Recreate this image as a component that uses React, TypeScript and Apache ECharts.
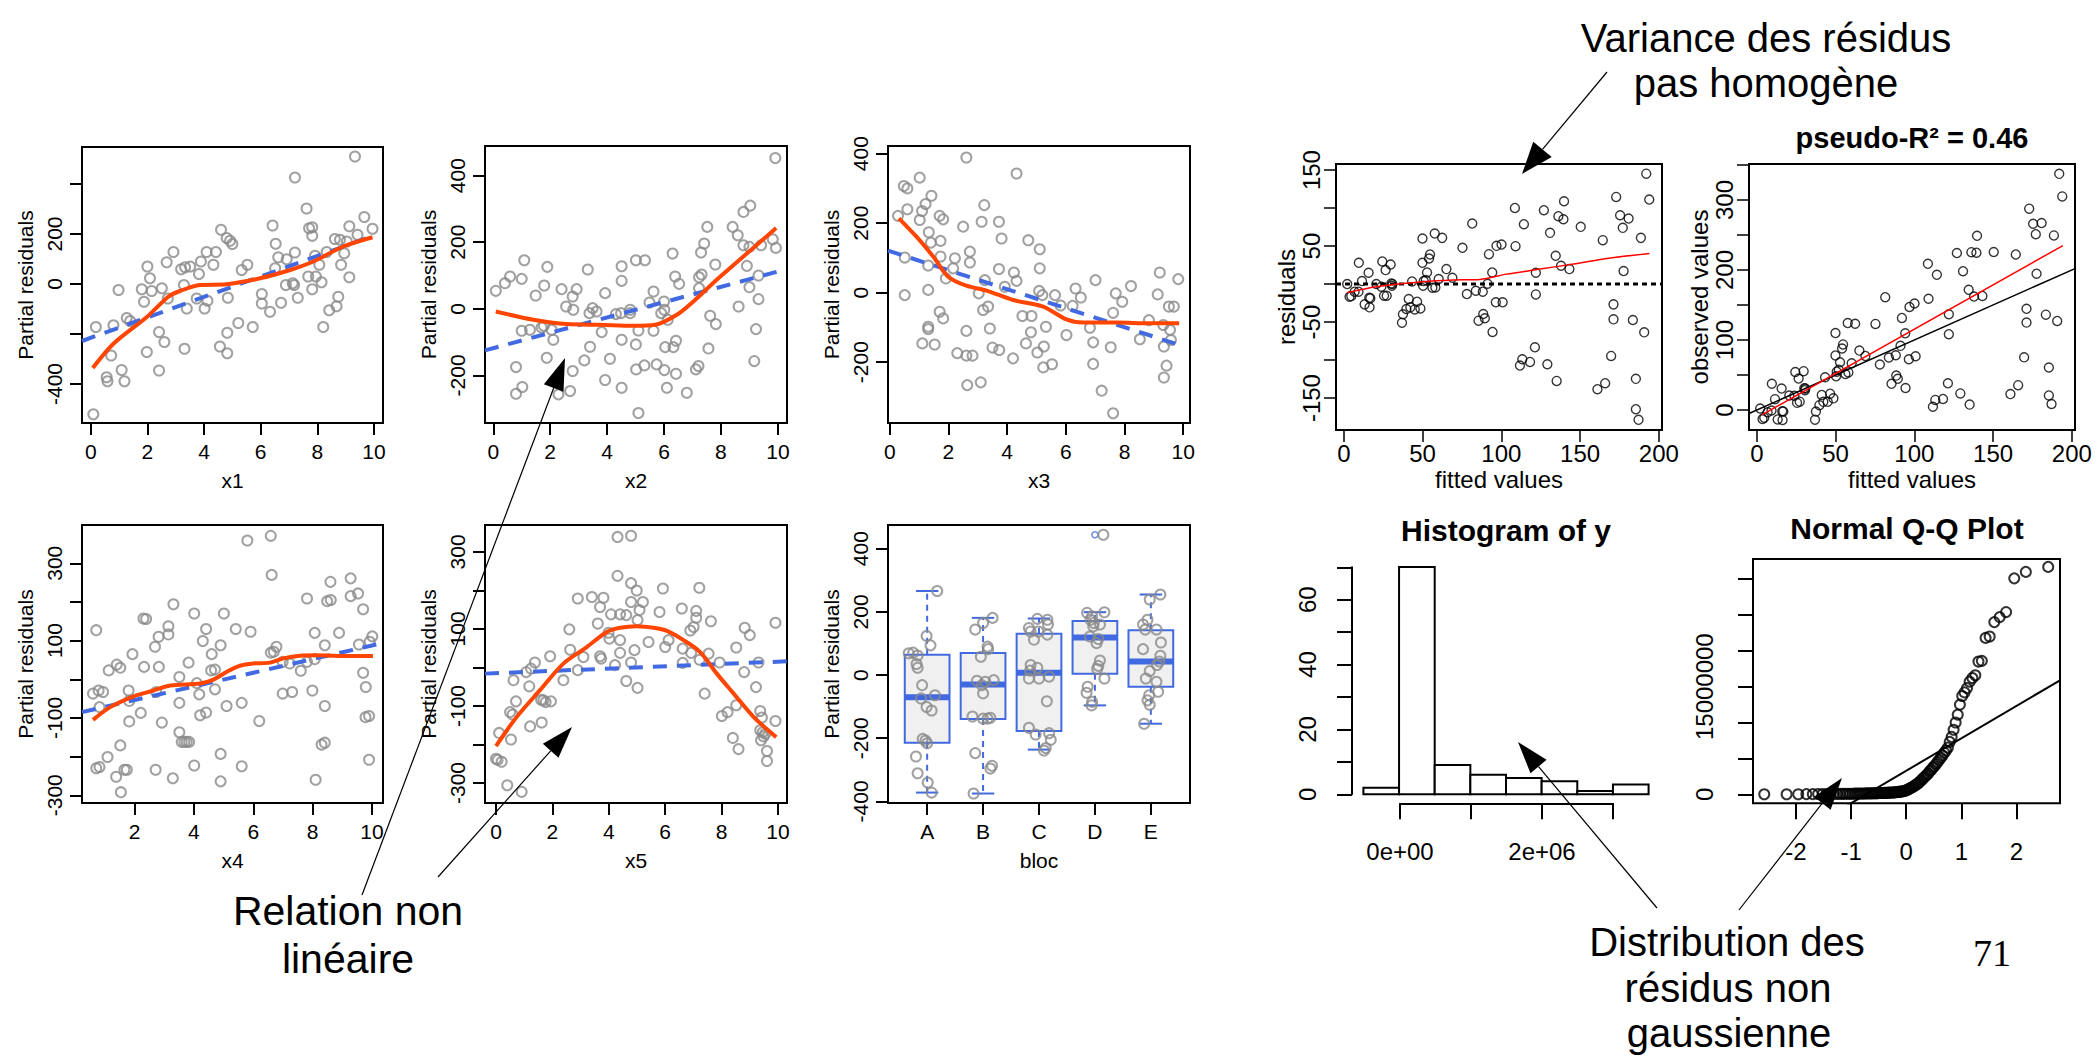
import React, { useEffect, useRef } from 'react';
import * as echarts from 'echarts';

const FONT = '"Liberation Sans", Arial, Helvetica, sans-serif';
const SERIF = '"Liberation Serif", "Times New Roman", serif';
const GRAY = '#8a8a8a';
const ORANGE = '#ff4500';
const BLUE = '#4169e1';

// ---------- Panel x1 ----------
const x1Points = [[0.09,-521],[0.18,-172],[0.56,-373],[0.59,-389],[0.72,-286],[0.8,-165],[0.98,-24],[1.09,-344],[1.19,-389],[1.27,-136],[1.39,-148],[1.8,-21],[1.88,-71],[1.98,-272],[2.0,70],[2.09,23],[2.15,-28],[2.41,-192],[2.41,-346],[2.51,-17],[2.6,-232],[2.68,87],[2.72,-58],[2.92,128],[3.19,59],[3.29,-4],[3.31,-259],[3.33,67],[3.39,-98],[3.51,70],[3.74,-58],[3.82,40],[3.89,90],[4.02,-98],[4.09,128],[4.12,-67],[4.33,77],[4.42,128],[4.56,-250],[4.6,217],[4.8,184],[4.82,-277],[4.82,-195],[4.84,-55],[4.92,173],[5.0,160],[5.21,-156],[5.33,56],[5.53,77],[5.72,-172],[6.04,-40],[6.04,-78],[6.33,-111],[6.42,234],[6.51,63],[6.53,161],[6.62,107],[6.72,-75],[6.92,99],[6.89,-4],[7.13,3],[7.18,-4],[7.21,126],[7.21,426],[7.31,-55],[7.62,302],[7.71,223],[7.82,227],[7.82,193],[7.68,30],[7.82,-21],[7.92,113],[7.95,30],[8.07,77],[8.15,7],[8.21,-172],[8.33,128],[8.42,-105],[8.62,180],[8.68,-89],[8.74,-51],[8.84,77],[8.8,177],[8.95,123],[9.04,170],[9.13,27],[9.13,231],[9.33,510],[9.42,197],[9.66,268],[9.95,221]];
const x1Smooth = [[0.07,-336],[0.8,-239],[1.98,-132],[2.74,-51],[3.15,-28],[3.86,-4],[4.8,-1],[5.98,23],[7.04,56],[7.86,90],[8.92,150],[9.95,187]];
const x1Linear = [[-0.31,-228],[9.98,193]];

// ---------- Panel x2 ----------
const x2Points = [[0.09,54],[0.41,77],[0.59,97],[0.8,-175],[0.8,-255],[1.0,90],[1.0,-66],[1.02,-235],[1.09,146],[1.29,-63],[1.49,40],[1.7,-56],[1.78,-51],[1.79,70],[1.88,-147],[1.9,126],[2.05,-63],[2.11,-93],[2.29,-257],[2.4,59],[2.56,7],[2.7,-247],[2.79,-187],[2.79,37],[2.81,-3],[2.93,59],[3.2,-155],[3.32,118],[3.38,-13],[3.4,-114],[3.49,2],[3.63,-8],[3.81,-70],[3.93,47],[3.93,-214],[4.1,-150],[4.31,-16],[4.49,-13],[4.51,128],[4.51,84],[4.51,-93],[4.51,-237],[4.81,-3],[4.81,-13],[5.01,146],[5.01,-107],[5.02,-182],[5.1,-65],[5.1,-313],[5.31,-170],[5.33,146],[5.49,19],[5.63,52],[5.63,-66],[5.74,-167],[5.9,-13],[6.0,22],[6.01,-3],[6.01,-184],[6.04,-115],[6.1,-237],[6.13,-33],[6.3,166],[6.33,-115],[6.39,97],[6.42,-96],[6.42,-195],[6.53,75],[6.8,-252],[7.12,-182],[7.21,-172],[7.23,95],[7.23,62],[7.3,169],[7.32,103],[7.41,196],[7.52,246],[7.56,-119],[7.62,-21],[7.8,133],[7.82,-46],[8.41,246],[8.59,221],[8.62,7],[8.79,191],[8.79,291],[8.91,129],[9.0,186],[9.03,310],[9.0,65],[9.17,-157],[9.23,-61],[9.32,29],[9.32,100],[9.41,191],[9.82,209],[9.91,453],[9.93,183]];
const x2Smooth = [[0.09,-8],[1.41,-33],[2.58,-46],[3.75,-48],[4.92,-51],[5.69,-48],[6.45,-18],[7.03,22],[7.85,87],[8.91,166],[9.94,243]];
const x2Linear = [[-0.29,-125],[10.08,114]];

// ---------- Panel x3 ----------
const x3Points = [[0.28,221],[0.48,307],[0.6,300],[0.51,101],[0.51,-7],[0.6,240],[1.02,331],[1.02,209],[1.1,235],[1.11,-146],[1.22,255],[1.33,174],[1.31,78],[1.31,8],[1.31,-98],[1.31,-105],[1.42,279],[1.4,144],[1.53,-149],[1.7,221],[1.73,149],[1.73,104],[1.82,211],[1.7,-55],[1.82,-74],[1.91,41],[2.16,70],[2.22,99],[2.3,-174],[2.5,190],[2.61,389],[2.61,-110],[2.61,-181],[2.64,-266],[2.73,118],[2.73,87],[2.82,-181],[3.03,-2],[3.13,204],[3.1,-258],[3.18,-50],[3.22,252],[3.24,36],[3.35,-40],[3.41,-103],[3.5,-158],[3.72,204],[3.72,68],[3.73,-165],[3.81,156],[3.92,17],[4.2,-189],[4.23,58],[4.32,34],[4.32,343],[4.52,-67],[4.64,-146],[4.72,151],[4.83,-67],[4.81,-114],[5.03,-172],[5.09,5],[5.11,125],[5.11,70],[5.2,-7],[5.23,-215],[5.25,-155],[5.32,-98],[5.53,-206],[5.63,-7],[5.82,-37],[6.02,-122],[6.23,-38],[6.33,12],[6.51,-14],[6.82,-101],[6.93,-143],[6.93,-205],[7.01,36],[7.22,-282],[7.53,-157],[7.61,-58],[7.7,-2],[7.92,-26],[8.22,19],[8.52,-134],[8.83,-79],[9.13,-5],[9.2,58],[9.32,-93],[9.34,-155],[9.34,-244],[9.43,-210],[9.51,-40],[9.55,-107],[9.58,-136],[9.68,-40],[9.83,39],[7.61,-347]];
const x3Smooth = [[0.31,214],[0.91,161],[1.48,104],[1.99,46],[2.61,20],[3.3,6],[4.2,-21],[5.23,-40],[6.02,-77],[6.59,-86],[7.73,-86],[8.86,-88],[9.86,-88]];
const x3Linear = [[-0.06,121],[9.89,-151]];

// ---------- Panel x4 ----------
const x4Points = [[0.6,-37],[0.71,127],[0.71,-230],[0.79,-29],[0.82,-72],[0.82,-227],[0.94,-33],[1.09,-201],[1.13,23],[1.38,-252],[1.4,38],[1.52,30],[1.52,-171],[1.54,-292],[1.66,-234],[1.74,-234],[1.8,-29],[1.82,-56],[1.82,-109],[1.93,65],[2.21,-87],[2.3,157],[2.39,156],[2.32,32],[2.69,84],[2.71,-234],[2.73,-33],[2.81,110],[2.82,32],[2.92,-112],[3.14,137],[3.14,116],[3.29,-256],[3.31,194],[3.51,6],[3.51,-61],[3.51,-137],[3.59,-162],[3.68,-162],[3.76,-162],[3.84,-162],[3.82,43],[4.01,170],[4.01,-223],[4.1,-10],[4.18,-39],[4.21,-93],[4.3,99],[4.41,130],[4.41,-86],[4.6,65],[4.58,23],[4.71,25],[4.71,-26],[4.9,88],[4.9,-193],[4.9,-264],[5.01,170],[5.1,-69],[5.41,130],[5.61,-61],[5.61,-225],[5.8,359],[5.91,123],[6.2,-108],[6.59,371],[6.62,270],[6.59,69],[6.69,71],[6.78,84],[6.99,-37],[6.99,45],[7.23,41],[7.31,-33],[7.6,22],[7.81,209],[7.81,45],[7.99,-29],[8.07,120],[8.07,52],[8.1,-260],[8.3,-169],[8.41,-164],[8.41,-69],[8.41,88],[8.49,202],[8.6,252],[8.61,205],[8.89,120],[9.28,261],[9.28,215],[9.53,222],[9.56,90],[9.7,181],[9.7,17],[9.79,-20],[9.78,-98],[9.9,-95],[9.9,-208],[9.92,97],[10.01,111]];
const x4Smooth = [[0.6,-105],[1.18,-72],[1.97,-44],[2.64,-29],[3.2,-16],[4.21,-11],[4.66,-1],[5.1,19],[5.55,35],[6.0,41],[6.56,43],[7.01,54],[7.57,61],[8.13,62],[9.25,60],[10.03,60]];
const x4Linear = [[0.23,-85],[10.26,92]];

// ---------- Panel x5 ----------
const x5Points = [[0,-237],[0.06,-240],[0.11,-170],[0.2,-245],[0.4,-306],[0.5,-116],[0.53,-187],[0.59,-122],[0.62,-33],[0.71,-88],[0.91,-323],[1.07,-12],[1.18,-49],[1.21,-153],[1.24,-3],[1.38,13],[1.6,-84],[1.62,-143],[1.68,-85],[1.76,-90],[1.92,29],[1.95,-88],[2.39,-33],[2.6,99],[2.63,46],[2.9,179],[2.9,-7],[3.1,27],[3.4,183],[3.61,114],[3.69,157],[3.69,29],[3.73,23],[3.81,181],[3.99,90],[4.02,75],[4.08,138],[4.22,6],[4.31,339],[4.31,238],[4.4,138],[4.4,71],[4.4,38],[4.62,136],[4.62,-35],[4.79,219],[4.79,342],[4.79,170],[4.79,13],[4.91,45],[4.99,200],[5.02,123],[5.02,-53],[5.09,149],[5.21,170],[5.41,66],[5.8,144],[5.92,205],[6.0,53],[6.12,71],[6.59,153],[6.62,49],[6.62,12],[6.89,96],[6.92,38],[7.01,105],[7.1,147],[7.1,129],[7.21,207],[7.22,20],[7.4,-68],[7.54,36],[7.62,120],[7.93,13],[8.01,-126],[8.21,-116],[8.4,-183],[8.52,-98],[8.52,52],[8.6,-212],[8.8,-12],[8.82,103],[9.0,84],[9.22,-51],[9.31,13],[9.37,-113],[9.37,-163],[9.4,-189],[9.43,-130],[9.46,-168],[9.49,-179],[9.55,-172],[9.61,-217],[9.61,-243],[9.91,-139],[9.91,116]];
const x5Smooth = [[0,-204],[0.73,-129],[1.56,-59],[2.39,10],[3.22,53],[3.93,92],[4.4,103],[4.99,107],[5.59,103],[6.06,95],[6.65,71],[7.24,40],[7.83,-16],[8.43,-68],[9.14,-129],[9.94,-181]];
const x5Linear = [[-0.39,-16],[10.32,16]];

// ---------- Panel bloc ----------
const blocNames = ['A', 'B', 'C', 'D', 'E'];
const blocLow = [-372, -375, -236, -96, -154];
const blocQ1 = [-214, -139, -177, 4, -37];
const blocMed = [-70, -30, 7, 119, 43];
const blocQ3 = [64, 70, 131, 171, 142];
const blocHigh = [266, 181, 179, 199, 255];
const blocOutliers = [[4, 444]];
const blocPoints = [[1.18,266],[0.99,124],[1.06,94],[0.67,69],[0.75,71],[0.83,62],[0.81,35],[0.83,23],[0.91,-32],[0.89,-74],[1.14,-64],[0.99,-101],[1.08,-112],[0.92,-202],[0.97,-207],[1.0,-216],[0.8,-258],[0.83,-311],[1.01,-340],[1.08,-372],
  [2.17,181],[2.0,165],[1.86,144],[2.08,90],[2.09,82],[1.96,58],[1.89,-18],[2.04,-21],[2.19,-16],[1.98,-32],[2.0,-58],[1.81,-131],[2.0,-138],[2.08,-138],[2.13,-135],[1.86,-247],[2.16,-287],[2.13,-296],[1.83,-375],
  [2.97,178],[3.15,175],[3.16,160],[2.82,149],[2.85,138],[2.99,138],[3.15,128],[2.91,112],[2.85,32],[2.97,23],[2.84,14],[3.18,-5],[3.0,-11],[2.82,-11],[3.14,-83],[2.82,-167],[2.94,-188],[3.18,-184],[3.21,-205],[3.12,-231],[3.09,-239],
  [4.15,444],[3.86,197],[4.17,199],[3.95,186],[3.92,175],[3.98,165],[3.97,154],[4.09,160],[3.91,122],[4.06,114],[4.03,101],[4.09,46],[4.06,29],[4.04,19],[4.17,-11],[3.87,-37],[3.85,-56],[3.95,-85],[3.94,-96],
  [5.17,255],[4.98,239],[4.94,175],[4.86,160],[4.9,144],[5.1,144],[5.18,103],[4.86,82],[5.17,61],[5.15,43],[5.11,32],[4.98,13],[4.91,-11],[5.1,-21],[5.13,-53],[4.97,-64],[4.94,-80],[4.98,-94],[4.88,-154]];

// ---------- Residuals vs fitted : [fitted, residual] ----------
const residPairs = [[2.1,0],[3.6,-16.6],[4.7,-15.8],[6.8,-10],[9.3,-10],[9.5,28],[11.5,4],[13.2,-26.7],[15.7,14.9],[16.1,-18],[16.3,-30.6],[16.8,-18.8],[20.6,0],[23.8,-3.5],[24.4,29.8],[25.5,-15.3],[26.5,18.4],[27.2,-15.3],[29.7,25.8],[30.1,0.9],[30.5,-2.2],[30.8,0],[36.9,-50.8],[37.5,-39.8],[39.7,-32.8],[41.2,-19.7],[42.2,-30.6],[43.3,3.5],[45,-33.3],[46.5,-23.2],[48.6,-32],[49.9,60],[49.9,28],[50.3,-2.2],[50.7,4],[52,5.3],[52.8,15.3],[54.1,33.7],[54.7,39],[56.2,-4.8],[57.7,66.5],[58.1,-4.4],[60.2,6.6],[62.4,60.8],[65.1,19.7],[68.9,8.3],[75.3,47.7],[78.1,-13.1],[81.5,79.6],[83.8,-8.8],[85.5,-48.1],[88.2,-10],[88.5,-39.4],[89.5,-45],[91.2,0.4],[92.1,39.4],[94.2,15.3],[94.4,-63],[96.5,-24],[96.9,50.3],[100.1,52],[100.8,-24],[108.6,100.2],[109,49.9],[111.8,-107.2],[113.3,-98.9],[114.3,78.8],[118.2,-102.4],[121.3,-83.2],[121.9,14.9],[121.9,-13.6],[127,97.2],[129.2,-105.5],[130.9,67.4],[134.5,37.2],[135.1,-127.4],[136.2,89.3],[137.9,24.1],[139.4,85.3],[139.8,109],[143.2,19.7],[150.4,75.3],[161,-138.3],[164.4,57.8],[165.9,-130.4],[169.7,-94.5],[171.2,-26.7],[171.2,-46.4],[172.9,114.7],[175.4,90.6],[177.1,74],[177.6,17.1],[180.8,86.2],[183.5,-47.3],[185.4,-124.7],[185.4,-164.6],[187.1,-178.6],[188.6,60.8],[190.7,-63.5],[192,145.3],[193.9,111.2]];
const residSmooth = [[2.1,-11.4],[20.6,-3.5],[50.3,3],[69.4,5.3],[86.3,6.1],[103.3,13.1],[124.5,19.7],[145.7,26.3],[167,33.7],[194,40.3]];
const zeroLine = [[-5, 0], [202, 0]];
const identityLine = [[-5, -5], [202, 202]];
const obsRegLine = [[3.2, -7], [194.3, 234.8]];

// ---------- Histogram of y (x in millions) ----------
const histBreaks = [-0.5, 0, 0.5, 1, 1.5, 2, 2.5, 3, 3.5];
const histCounts = [2, 70, 9, 6, 5, 4, 1, 3];

// ---------- Normal Q-Q (sample in millions) ----------
const qqTheo = [-2.5758,-2.1701,-1.9600,-1.8119,-1.6954,-1.5982,-1.5141,-1.4395,-1.3722,-1.3106,-1.2536,-1.2004,-1.1503,-1.1031,-1.0581,-1.0152,-0.9741,-0.9346,-0.8965,-0.8596,-0.8239,-0.7892,-0.7554,-0.7225,-0.6903,-0.6588,-0.6280,-0.5978,-0.5681,-0.5388,-0.5101,-0.4817,-0.4538,-0.4261,-0.3989,-0.3719,-0.3451,-0.3186,-0.2924,-0.2663,-0.2404,-0.2147,-0.1891,-0.1637,-0.1383,-0.1130,-0.0878,-0.0627,-0.0376,-0.0125,
  0.0125,0.0376,0.0627,0.0878,0.1130,0.1383,0.1637,0.1891,0.2147,0.2404,0.2663,0.2924,0.3186,0.3451,0.3719,0.3989,0.4261,0.4538,0.4817,0.5101,0.5388,0.5681,0.5978,0.6280,0.6588,0.6903,0.7225,0.7554,0.7892,0.8239,0.8596,0.8965,0.9346,0.9741,1.0152,1.0581,1.1031,1.1503,1.2004,1.2536,1.3106,1.3722,1.4395,1.5141,1.5982,1.6954,1.8119,1.9600,2.1701,2.5758];
const qqSample = [0.00,0.01,0.01,0.02,0.02,0.03,0.03,0.04,0.04,0.05,
  0.05,0.06,0.06,0.07,0.07,0.08,0.08,0.09,0.09,0.10,
  0.10,0.11,0.11,0.12,0.12,0.13,0.13,0.14,0.15,0.15,
  0.16,0.17,0.17,0.18,0.19,0.20,0.21,0.22,0.23,0.24,
  0.25,0.27,0.29,0.31,0.33,0.36,0.39,0.42,0.46,0.52,
  0.6,0.7,0.8,0.9,1.0,1.1,1.25,1.4,1.5,1.7,
  1.9,2.1,2.3,2.5,2.7,2.9,3.2,3.4,3.7,3.9,
  4.2,4.5,4.8,5.1,5.4,5.8,6.1,6.5,7.3,8.0,
  9.0,10.0,11.1,12.5,13.7,14.2,14.8,15.7,16.2,16.6,
  18.5,18.6,21.8,22.0,24.0,24.7,25.4,30.1,31.0,31.7];
const qqLinePts = [[-2.78, -9.29], [2.79, 15.89]];

// ================= option building =================
function buildOption() {
  const grid: any[] = [];
  const xAxis: any[] = [];
  const yAxis: any[] = [];
  const series: any[] = [];

  const axis = (gi: number, dim: 'x' | 'y', o: any) => ({
    gridIndex: gi,
    type: 'value',
    min: o.min,
    max: o.max,
    position: dim === 'x' ? 'bottom' : 'left',
    show: o.show !== false,
    splitLine: { show: false },
    axisLine: { show: !!o.line, onZero: false, lineStyle: { color: '#000', width: o.lw || 2 } },
    axisTick: o.ticks
      ? { show: true, inside: false, length: o.tickLen || 12, customValues: o.ticks, lineStyle: { color: '#000', width: o.lw || 2 } }
      : { show: false },
    axisLabel: o.labels
      ? {
          show: true,
          customValues: o.labels,
          formatter: o.fmt || ((v: number) => String(v)),
          margin: o.margin,
          rotate: dim === 'y' ? 90 : 0,
          color: '#000',
          fontSize: o.fs,
          fontFamily: FONT,
        }
      : { show: false },
    name: o.name || '',
    nameLocation: 'middle',
    nameGap: o.nameGap,
    nameRotate: dim === 'y' ? 90 : 0,
    nameTextStyle: { color: '#000', fontSize: o.fs, fontFamily: FONT },
  });

  const addPanel = (g: any, xo: any, yo: any, boxed: boolean) => {
    const gi = grid.length;
    grid.push({ ...g, show: boxed, borderColor: '#000', borderWidth: 2, backgroundColor: 'transparent', containLabel: false });
    xAxis.push(axis(gi, 'x', xo));
    yAxis.push(axis(gi, 'y', yo));
    return gi;
  };

  const scatter = (gi: number, data: any[], color: string, size: number, bw: number, z = 2) =>
    series.push({
      type: 'scatter', xAxisIndex: gi, yAxisIndex: gi, data, symbol: 'circle', symbolSize: size, z, silent: true,
      itemStyle: { color: 'rgba(0,0,0,0)', borderColor: color, borderWidth: bw },
    });
  const line = (gi: number, data: any[], color: string, width: number, type: any, smooth: number | boolean, z = 3) =>
    series.push({
      type: 'line', xAxisIndex: gi, yAxisIndex: gi, data, symbol: 'none', showSymbol: false, smooth, z, silent: true,
      lineStyle: { color, width, type }, clip: true,
    });

  // ---- partial residual panels ----
  const left = { fs: 21, margin: 18, tickLen: 12 };
  const yLeft = { ...left, margin: 17, name: 'Partial residuals', nameGap: 46 };
  const xTicks10 = [0, 2, 4, 6, 8, 10];

  const termPanels = [
    { g: { left: 82, top: 147, width: 301, height: 276 }, xr: [-0.31, 10.32], yr: [-556, 548], yt: [-400, -200, 0, 200, 400], yl: [-400, 0, 200], xt: xTicks10, name: 'x1', pts: x1Points, sm: x1Smooth, lin: x1Linear },
    { g: { left: 485, top: 146, width: 302, height: 277 }, xr: [-0.29, 10.32], yr: [-343, 489], yt: [-200, 0, 200, 400], yl: [-200, 0, 200, 400], xt: xTicks10, name: 'x2', pts: x2Points, sm: x2Smooth, lin: x2Linear },
    { g: { left: 888, top: 146, width: 302, height: 277 }, xr: [-0.06, 10.23], yr: [-375, 422], yt: [-200, 0, 200, 400], yl: [-200, 0, 200, 400], xt: xTicks10, name: 'x3', pts: x3Points, sm: x3Smooth, lin: x3Linear },
    { g: { left: 82, top: 525, width: 301, height: 278 }, xr: [0.23, 10.37], yr: [-320, 399], yt: [-300, -200, -100, 0, 100, 200, 300], yl: [-300, -100, 100, 300], xt: [2, 4, 6, 8, 10], name: 'x4', pts: x4Points, sm: x4Smooth, lin: x4Linear },
    { g: { left: 485, top: 525, width: 302, height: 278 }, xr: [-0.39, 10.32], yr: [-352, 370], yt: [-300, -200, -100, 0, 100, 200, 300], yl: [-300, -100, 100, 300], xt: xTicks10, name: 'x5', pts: x5Points, sm: x5Smooth, lin: x5Linear },
  ];
  termPanels.forEach((p) => {
    const gi = addPanel(
      p.g,
      { ...left, min: p.xr[0], max: p.xr[1], ticks: p.xt, labels: p.xt, name: p.name, nameGap: 47 },
      { ...yLeft, min: p.yr[0], max: p.yr[1], ticks: p.yt, labels: p.yl },
      true,
    );
    scatter(gi, p.pts, GRAY, 10, 2);
    line(gi, p.lin, BLUE, 4, [14, 10], false, 3);
    line(gi, p.sm, ORANGE, 4, 'solid', 0.3, 4);
  });

  // ---- bloc panel ----
  const gBloc = addPanel(
    { left: 888, top: 525, width: 302, height: 278 },
    { ...left, min: 0.3, max: 5.7, ticks: [1, 2, 3, 4, 5], labels: [1, 2, 3, 4, 5], fmt: (v: number) => blocNames[Math.round(v) - 1] || '', name: 'bloc', nameGap: 47 },
    { ...yLeft, min: -405, max: 475, ticks: [-400, -200, 0, 200, 400], labels: [-400, -200, 0, 200, 400] },
    true,
  );
  series.push({
    type: 'custom', xAxisIndex: gBloc, yAxisIndex: gBloc, z: 1, silent: true,
    data: blocNames.map((_, i) => [i + 1, blocLow[i], blocQ1[i], blocMed[i], blocQ3[i], blocHigh[i]]),
    encode: { x: 0, y: [1, 2, 3, 4, 5] },
    renderItem: (params: any, api: any) => {
      const x = api.value(0);
      const lo = api.value(1), q1 = api.value(2), md = api.value(3), q3 = api.value(4), hi = api.value(5);
      const hw = 0.4, sw = 0.2;
      const c = (a: number, b: number) => api.coord([a, b]);
      const pLo = c(x, lo), pQ1 = c(x, q1), pQ3 = c(x, q3), pHi = c(x, hi);
      const bl = c(x - hw, q3), br = c(x + hw, q1);
      const ml = c(x - hw, md), mr = c(x + hw, md);
      const sl = c(x - sw, hi), sr = c(x + sw, hi);
      const tl = c(x - sw, lo), tr = c(x + sw, lo);
      const dashed = { stroke: BLUE, lineWidth: 2, lineDash: [6, 5] };
      const solid = { stroke: BLUE, lineWidth: 2 };
      return {
        type: 'group',
        children: [
          { type: 'line', shape: { x1: pQ3[0], y1: pQ3[1], x2: pHi[0], y2: pHi[1] }, style: dashed },
          { type: 'line', shape: { x1: pQ1[0], y1: pQ1[1], x2: pLo[0], y2: pLo[1] }, style: dashed },
          { type: 'line', shape: { x1: sl[0], y1: sl[1], x2: sr[0], y2: sr[1] }, style: solid },
          { type: 'line', shape: { x1: tl[0], y1: tl[1], x2: tr[0], y2: tr[1] }, style: solid },
          { type: 'rect', shape: { x: bl[0], y: bl[1], width: br[0] - bl[0], height: br[1] - bl[1] }, style: { fill: '#f0f0f0', stroke: BLUE, lineWidth: 2 } },
          { type: 'line', shape: { x1: ml[0], y1: ml[1], x2: mr[0], y2: mr[1] }, style: { stroke: BLUE, lineWidth: 6 } },
        ],
      };
    },
  });
  scatter(gBloc, blocOutliers, BLUE, 6, 1.5, 2);
  scatter(gBloc, blocPoints, GRAY, 10, 2, 3);

  // ---- residuals vs fitted ----
  const right = { fs: 24, tickLen: 12, lw: 1.5 };
  const fitted = residPairs.map((p) => p[0]);
  const resid = residPairs.map((p) => p[1]);
  const gRes = addPanel(
    { left: 1336, top: 164, width: 326, height: 266 },
    { ...right, min: -5, max: 202, ticks: [0, 50, 100, 150, 200], labels: [0, 50, 100, 150, 200], margin: 11, name: 'fitted values', nameGap: 37 },
    { ...right, min: -192, max: 158, ticks: [-150, -100, -50, 0, 50, 100, 150], labels: [-150, -50, 50, 150], margin: 13, name: 'residuals', nameGap: 38 },
    true,
  );
  scatter(gRes, fitted.map((f, i) => [f, resid[i]]), '#000', 9, 1.4);
  line(gRes, zeroLine, '#000', 3, [5, 4], false, 3);
  line(gRes, residSmooth, '#ff0000', 1.5, 'solid', 0.3, 4);

  // ---- observed vs fitted ----
  const gObs = addPanel(
    { left: 1749, top: 164, width: 326, height: 266 },
    { ...right, min: -5, max: 202, ticks: [0, 50, 100, 150, 200], labels: [0, 50, 100, 150, 200], margin: 11, name: 'fitted values', nameGap: 37 },
    { ...right, min: -28.6, max: 351.4, ticks: [0, 50, 100, 150, 200, 250, 300, 350], labels: [0, 100, 200, 300], margin: 13, name: 'observed values', nameGap: 38 },
    true,
  );
  scatter(gObs, fitted.map((f, i) => [f, f + resid[i]]), '#000', 9, 1.4);
  line(gObs, identityLine, '#000', 1.5, 'solid', false, 3);
  line(gObs, obsRegLine, '#ff0000', 1.5, 'solid', false, 4);

  // ---- histogram ----
  const gHist = addPanel(
    { left: 1352, top: 558, width: 308, height: 245.3 },
    { show: false, min: -0.66, max: 3.66 },
    { show: false, min: -2.8, max: 72.8 },
    false,
  );
  series.push({
    type: 'custom', xAxisIndex: gHist, yAxisIndex: gHist, silent: true,
    data: histCounts.map((n, i) => [histBreaks[i], histBreaks[i + 1], n]),
    encode: { x: [0, 1], y: 2 },
    renderItem: (params: any, api: any) => {
      const a = api.coord([api.value(0), api.value(2)]);
      const b = api.coord([api.value(1), 0]);
      return { type: 'rect', shape: { x: a[0], y: a[1], width: b[0] - a[0], height: b[1] - a[1] }, style: { fill: '#fff', stroke: '#000', lineWidth: 2 } };
    },
  });
  const hfmt: Record<number, string> = { 0: '0e+00', 2: '2e+06' };
  addPanel(
    { left: 1400, top: 558, width: 213, height: 245.3 },
    { fs: 24, min: 0, max: 3, line: true, ticks: [0, 1, 2, 3], labels: [0, 2], fmt: (v: number) => hfmt[v] || '', tickLen: 16, margin: 36 },
    { show: false, min: 0, max: 1 },
    false,
  );
  addPanel(
    { left: 1352, top: 567.3, width: 100, height: 227 },
    { show: false, min: 0, max: 1 },
    { fs: 24, min: 0, max: 70, line: true, ticks: [0, 10, 20, 30, 40, 50, 60, 70], labels: [0, 20, 40, 60], tickLen: 15, margin: 33 },
    false,
  );

  // ---- normal Q-Q ----
  const gQQ = addPanel(
    { left: 1753, top: 559, width: 307, height: 244.3 },
    { fs: 24, min: -2.78, max: 2.79, ticks: [-2, -1, 0, 1, 2], labels: [-2, -1, 0, 1, 2], tickLen: 16, margin: 36, lw: 2 },
    { fs: 24, min: -1.26, max: 32.8, ticks: [0, 5, 10, 15, 20, 25, 30], labels: [0, 15], fmt: (v: number) => (v === 0 ? '0' : String(v * 1000000)), tickLen: 15, margin: 37, lw: 2 },
    true,
  );
  scatter(gQQ, qqTheo.map((q, i) => [q, qqSample[i]]), '#000', 10, 2);
  line(gQQ, qqLinePts, '#000', 2, 'solid', false, 3);

  // ---- annotations ----
  const txt = (s: string, x: number, y: number, size = 41, family = FONT) => ({
    type: 'text', x, y, z: 100, silent: true,
    style: { text: s, fill: '#000', fontSize: size, fontFamily: family, align: 'center', verticalAlign: 'middle' },
  });
  const arrow = (tail: number[], tip: number[], len = 32, hw = 10.5) => {
    const dx = tip[0] - tail[0], dy = tip[1] - tail[1];
    const L = Math.hypot(dx, dy);
    const ux = dx / L, uy = dy / L;
    const bx = tip[0] - ux * len, by = tip[1] - uy * len;
    return [
      { type: 'line', z: 100, silent: true, shape: { x1: tail[0], y1: tail[1], x2: bx, y2: by }, style: { stroke: '#000', lineWidth: 1.2 } },
      { type: 'polygon', z: 100, silent: true, shape: { points: [tip, [bx - uy * hw, by + ux * hw], [bx + uy * hw, by - ux * hw]] }, style: { fill: '#000' } },
    ];
  };
  const graphic = [
    txt('Variance des résidus', 1766, 38, 40),
    txt('pas homogène', 1766, 83, 40),
    txt('Relation non', 348, 911),
    txt('linéaire', 348, 959),
    txt('Distribution des', 1727, 942, 40),
    txt('résidus non', 1728, 988, 40),
    txt('gaussienne', 1729, 1033, 40),
    txt('71', 1992, 953, 38, SERIF),
    ...arrow([362, 895], [565, 358]),
    ...arrow([438, 877], [572, 727]),
    ...arrow([1607, 72], [1522, 174], 32, 12),
    ...arrow([1657, 908], [1518, 742]),
    ...arrow([1739, 910], [1842, 778]),
  ];

  const title = [
    { text: 'pseudo-R² = 0.46', left: 1912, top: 123 },
    { text: 'Histogram of y', left: 1506, top: 515 },
    { text: 'Normal Q-Q Plot', left: 1907, top: 513 },
  ].map((t, i) => ({
    ...t, textAlign: 'center', padding: 0,
    textStyle: { fontSize: i === 0 ? 29 : 30, fontWeight: 'bold', fontFamily: FONT, color: '#000' },
  }));

  return {
    animation: false,
    backgroundColor: '#fff',
    title,
    grid,
    xAxis,
    yAxis,
    series,
    graphic: { elements: graphic },
  };
}

export default function App() {
  const ref = useRef<HTMLDivElement>(null);
  useEffect(() => {
    if (!ref.current) return;
    const chart = echarts.init(ref.current, undefined, { renderer: 'svg', width: 2099, height: 1060 });
    chart.setOption(buildOption() as any);
    return () => chart.dispose();
  }, []);
  return <div ref={ref} style={{ position: 'fixed', left: 0, top: 0, width: 2099, height: 1060, background: '#fff' }} />;
}
